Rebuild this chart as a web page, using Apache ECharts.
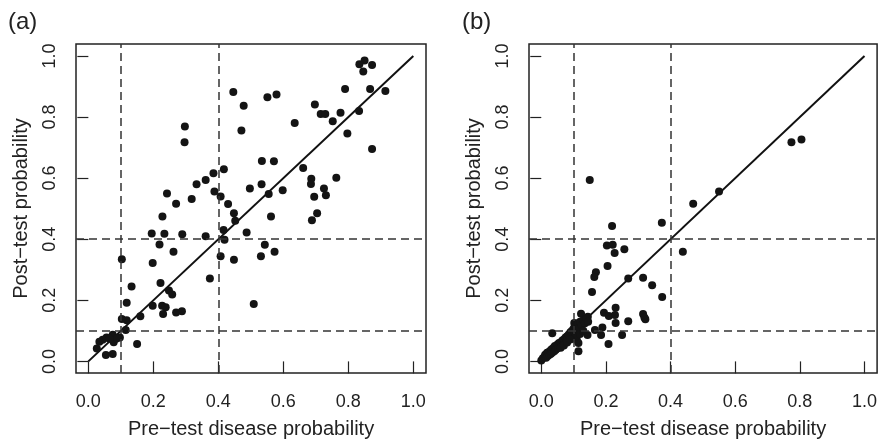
<!DOCTYPE html>
<html><head><meta charset="utf-8">
<script src="https://cdn.jsdelivr.net/npm/echarts@6/dist/echarts.min.js"></script>
<style>html,body{margin:0;padding:0;background:#fff}#c{width:880px;height:444px}</style>
</head><body><div id="c"></div>
<script>
const tickValues = [0, 0.2, 0.4, 0.6, 0.8, 1.0];
const cutoffs = [0.1, 0.4];
const identityLine = [[0, 0], [1, 1]];
const xTitle = 'Pre\u2212test disease probability';
const yTitle = 'Post\u2212test probability';
const panelLabels = ['(a)', '(b)'];

const preA = [0.850,0.834,0.846,0.873,0.446,0.551,0.579,0.478,0.790,0.867,0.914,0.697,0.715,0.729,0.776,0.752,0.833,0.635,0.471,0.297,0.296,0.797,0.873,0.534,0.571,0.661,0.417,0.385,0.361,0.333,0.686,0.685,0.763,0.533,0.497,0.598,0.725,0.731,0.695,0.555,0.388,0.407,0.242,0.318,0.270,0.430,0.448,0.704,0.228,0.562,0.452,0.688,0.416,0.487,0.195,0.234,0.289,0.361,0.419,0.219,0.543,0.573,0.262,0.407,0.531,0.448,0.103,0.198,0.374,0.222,0.133,0.248,0.258,0.509,0.118,0.198,0.227,0.238,0.230,0.270,0.288,0.160,0.103,0.118,0.115,0.097,0.075,0.056,0.044,0.034,0.026,0.078,0.087,0.054,0.075,0.150,0.065];
const postA = [0.985,0.973,0.949,0.970,0.882,0.865,0.874,0.837,0.892,0.892,0.885,0.841,0.810,0.810,0.814,0.786,0.820,0.780,0.756,0.769,0.717,0.746,0.695,0.656,0.655,0.633,0.629,0.616,0.594,0.580,0.598,0.581,0.601,0.580,0.566,0.560,0.566,0.544,0.539,0.548,0.556,0.540,0.550,0.532,0.516,0.515,0.485,0.485,0.474,0.474,0.460,0.462,0.430,0.422,0.419,0.418,0.416,0.410,0.398,0.383,0.382,0.359,0.359,0.344,0.344,0.333,0.334,0.322,0.271,0.257,0.245,0.232,0.219,0.188,0.192,0.182,0.182,0.177,0.155,0.160,0.164,0.148,0.139,0.135,0.103,0.078,0.087,0.078,0.071,0.064,0.042,0.063,0.075,0.021,0.024,0.057,0.074];

const preB = [0.774,0.805,0.550,0.470,0.150,0.373,0.219,0.203,0.221,0.227,0.257,0.438,0.205,0.169,0.164,0.269,0.315,0.343,0.157,0.374,0.230,0.123,0.194,0.209,0.228,0.230,0.315,0.322,0.319,0.269,0.144,0.102,0.166,0.189,0.185,0.143,0.250,0.034,0.208,0.115,
  0.000,0.005,0.010,0.012,0.015,0.018,0.020,0.022,0.025,0.028,0.030,0.032,0.035,0.038,0.040,0.042,0.045,0.048,0.050,0.052,0.055,0.058,0.060,0.062,0.065,0.068,0.070,0.072,0.075,0.078,0.080,0.082,0.085,0.088,0.090,0.092,0.095,0.098,0.100,0.102,0.105,0.108,0.110,0.112,0.115,0.118,0.120,0.125,0.130,0.135,0.140,0.145,0.110,0.115,0.105,0.120,0.130,0.060,0.070,0.080,0.090];
const postB = [0.717,0.726,0.556,0.516,0.594,0.454,0.443,0.379,0.382,0.355,0.367,0.359,0.312,0.292,0.276,0.271,0.274,0.249,0.227,0.211,0.176,0.156,0.159,0.149,0.152,0.126,0.155,0.138,0.144,0.131,0.146,0.126,0.103,0.111,0.086,0.086,0.086,0.092,0.057,0.033,
  0.003,0.010,0.015,0.022,0.012,0.028,0.018,0.030,0.022,0.035,0.025,0.040,0.030,0.045,0.033,0.050,0.038,0.042,0.055,0.045,0.060,0.050,0.062,0.055,0.068,0.058,0.072,0.065,0.078,0.070,0.082,0.075,0.088,0.080,0.095,0.085,0.100,0.090,0.108,0.095,0.115,0.100,0.120,0.105,0.125,0.110,0.130,0.118,0.135,0.125,0.140,0.130,0.070,0.060,0.080,0.090,0.100,0.045,0.052,0.062,0.072];

const FONT = '"Liberation Sans", Arial, sans-serif';
const AX_MIN = -0.038, AX_MAX = 1.039;

function xAx(i) {
  return {
    gridIndex: i, type: 'value', min: AX_MIN, max: AX_MAX,
    axisLine: {show: false}, splitLine: {show: false},
    axisTick: {show: true, length: 12, customValues: tickValues, lineStyle: {color: '#222', width: 1.2}},
    axisLabel: {customValues: tickValues, formatter: v => v.toFixed(1), color: '#222', fontSize: 18, fontFamily: FONT, margin: 20},
    name: xTitle, nameLocation: 'middle', nameGap: 46,
    nameTextStyle: {color: '#222', fontSize: 20, fontFamily: FONT}
  };
}
function yAx(i) {
  return {
    gridIndex: i, type: 'value', min: AX_MIN, max: AX_MAX,
    axisLine: {show: false}, splitLine: {show: false},
    axisTick: {show: true, length: 11, customValues: tickValues, lineStyle: {color: '#222', width: 1.2}},
    axisLabel: {customValues: tickValues, formatter: v => v.toFixed(1), color: '#222', fontSize: 18, fontFamily: FONT, rotate: 90, margin: 17},
    name: yTitle, nameLocation: 'middle', nameGap: 45,
    nameTextStyle: {color: '#222', fontSize: 20, fontFamily: FONT}
  };
}
function zip(a, b) { return a.map((v, i) => [v, b[i]]); }
function cutLines() {
  const d = [];
  cutoffs.forEach(c => { d.push({xAxis: c}); d.push({yAxis: c}); });
  return d;
}
function panelSeries(i, xs, ys) {
  return [
    {type: 'line', xAxisIndex: i, yAxisIndex: i, data: identityLine, showSymbol: false, symbol: 'none',
     lineStyle: {color: '#111', width: 2}, silent: true, z: 2,
     markLine: {silent: true, symbol: 'none', label: {show: false},
       lineStyle: {color: '#333', width: 1.5, type: [8, 5]}, data: cutLines()}},
    {type: 'scatter', xAxisIndex: i, yAxisIndex: i, data: zip(xs, ys), symbol: 'circle', symbolSize: 8,
     itemStyle: {color: '#141414', opacity: 1}, z: 3}
  ];
}

const chart = echarts.init(document.getElementById('c'), null, {renderer: 'canvas'});
chart.setOption({
  animation: false,
  backgroundColor: '#fff',
  grid: [
    {left: 76, top: 44, width: 350, height: 330, show: true, borderColor: '#222', borderWidth: 1.5, backgroundColor: 'transparent'},
    {left: 529, top: 44, width: 350, height: 330, show: true, borderColor: '#222', borderWidth: 1.5, backgroundColor: 'transparent'}
  ],
  xAxis: [xAx(0), xAx(1)],
  yAxis: [yAx(0), yAx(1)],
  series: [...panelSeries(0, preA, postA), ...panelSeries(1, preB, postB)],
  graphic: [
    {type: 'text', left: 8, top: 10, style: {text: panelLabels[0], fontSize: 24, fontFamily: FONT, fill: '#222'}},
    {type: 'text', left: 462, top: 10, style: {text: panelLabels[1], fontSize: 24, fontFamily: FONT, fill: '#222'}}
  ]
});
</script></body></html>
